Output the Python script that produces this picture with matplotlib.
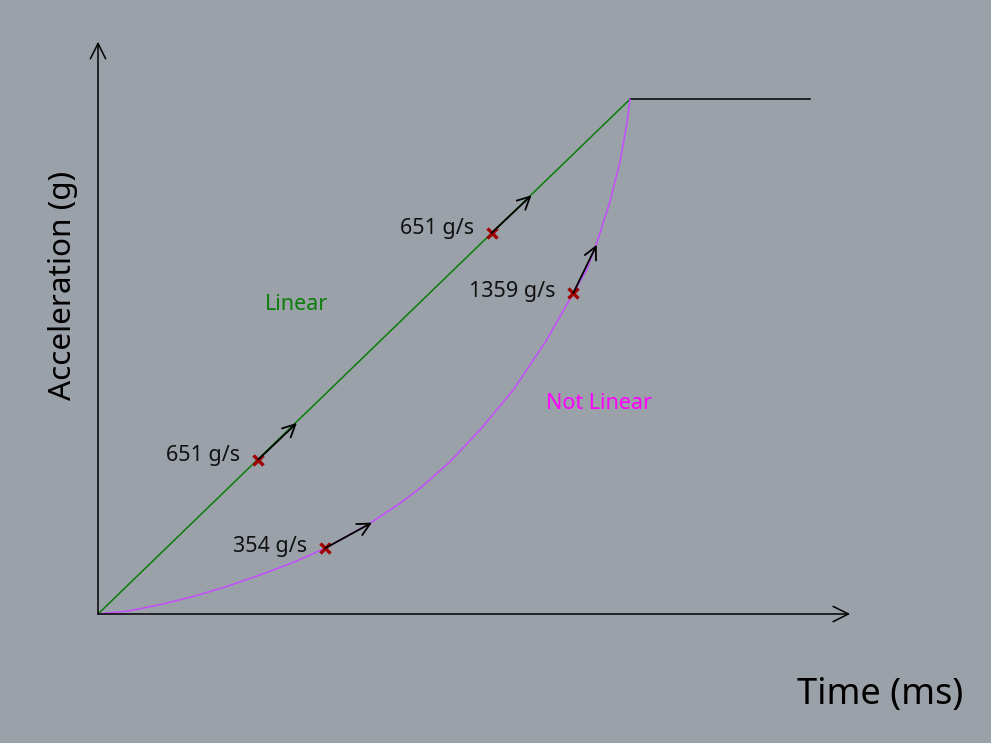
import matplotlib.pyplot as plt

plt.rcParams['font.family'] = ['Noto Sans', 'DejaVu Sans']

# time (ms) and acceleration (g)
lin_t = [0, 80]
lin_a = [0, 52]
plat_t = [80, 107]
plat_a = [52, 52]

curve_t = [0, 4.56, 9.58, 14.59, 19.59, 24.62, 29.62, 34.14, 40.90, 45.41, 48.42,
           52.93, 57.44, 62.45, 67.47, 71.47, 73.49, 74.99, 76.99, 78.50, 79.50, 80.0]
curve_a = [0, 0.30, 0.98, 1.82, 2.83, 4.01, 5.28, 6.64, 9.16, 11.18, 12.70,
           15.38, 18.59, 22.63, 27.68, 32.42, 34.75, 37.44, 41.65, 45.69, 49.39, 52.0]

# sample points, tangent arrow ends and their rates
pt_t = [24.1, 59.2, 34.14, 71.47]
pt_a = [15.6, 38.5, 6.64, 32.42]
tip_t = [29.9, 65.2, 41.2, 75.0]
tip_a = [19.3, 42.3, 9.23, 37.3]
rates = ['651 g/s', '651 g/s', '354 g/s', '1359 g/s']
lab_off = [(-2.7, 0.4), (-2.6, 0.4), (-2.7, 0.2), (-2.6, 0.2)]

bg = '#9ba1a8'
fig = plt.figure(figsize=(9.91, 7.43), dpi=100, facecolor=bg)
ax = fig.add_axes([0, 0, 1, 1])
ax.set_facecolor(bg)
ax.set_xlim(-14.74, 134.29)
ax.set_ylim(-13.03, 62.02)
ax.axis('off')

# axes with arrow heads
ax.annotate('', xy=(0, 57.8), xytext=(0, 0),
            arrowprops=dict(arrowstyle='->,head_length=1.1,head_width=0.55', color='black', lw=1.1,
                            shrinkA=0, shrinkB=0))
ax.annotate('', xy=(113.1, 0), xytext=(0, 0),
            arrowprops=dict(arrowstyle='->,head_length=1.1,head_width=0.55', color='black', lw=1.1,
                            shrinkA=0, shrinkB=0))

ax.plot(lin_t, lin_a, color='#0a7d0a', lw=1.1)
ax.plot(plat_t, plat_a, color='black', lw=1.1)
ax.plot(curve_t, curve_a, color='#c54bff', lw=1.1)

for i in range(len(pt_t)):
    ax.annotate('', xy=(tip_t[i], tip_a[i]), xytext=(pt_t[i], pt_a[i]),
                arrowprops=dict(arrowstyle='->,head_length=0.9,head_width=0.45', color='black', lw=1.3,
                                shrinkA=0, shrinkB=0))
    ax.plot(pt_t[i], pt_a[i], marker='x', color='#a00000', ms=6.5, mew=2.4)
    ax.text(pt_t[i] + lab_off[i][0], pt_a[i] + lab_off[i][1], rates[i], fontsize=15.5,
            ha='right', va='center', color='#111111')

ax.text(29.9, 31.3, 'Linear', color='#0a7d0a', fontsize=15.5, ha='center', va='center')
ax.text(75.3, 21.3, 'Not Linear', color='#ff00ff', fontsize=15.5, ha='center', va='center')

ax.text(-5.2, 33.2, 'Acceleration (g)', rotation=90, fontsize=22.7, ha='center', va='center')
ax.text(117.6, -8.2, 'Time (ms)', fontsize=26, ha='center', va='center')

fig.savefig('out.png', dpi=100, facecolor=bg)
